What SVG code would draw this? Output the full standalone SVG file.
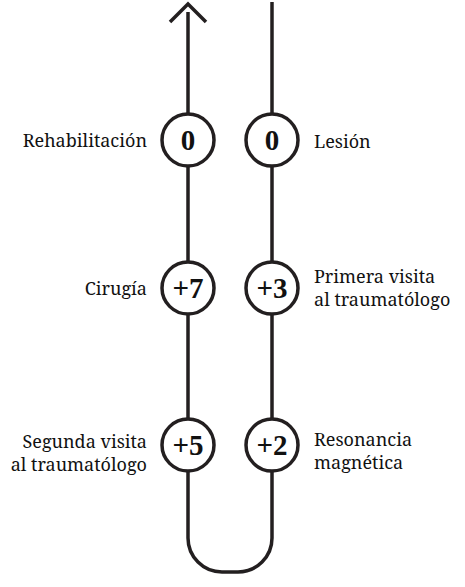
<svg xmlns="http://www.w3.org/2000/svg" width="465" height="587" viewBox="0 0 465 587">
<style>
.ln{fill:none;stroke:#231f20;stroke-width:3.5;stroke-linecap:butt}
.c{fill:#fff;stroke:#231f20;stroke-width:3.5}
</style>
<rect width="465" height="587" fill="#fff"/>
<g id="connectors">
<path class="ln" d="M188,12 V114"/>
<path class="ln" d="M170,22 L188,4 L206,22"/>
<path class="ln" d="M272,2 V114"/>
<path class="ln" d="M188,167 V261 M272,167 V261 M188,314 V419 M272,314 V419"/>
<path class="ln" d="M188,472 V538 A34,34 0 0 0 222,572 H238 A34,34 0 0 0 272,538 V472"/>
</g>
<g fill="#111">
<g font-family="Liberation Serif, serif" font-size="29" font-weight="bold" text-anchor="middle">
<g id="node-rehabilitacion"><circle class="c" cx="188" cy="140" r="26"/><text x="188" y="150">0</text></g>
<g id="node-lesion"><circle class="c" cx="272" cy="140" r="26"/><text x="272" y="150">0</text></g>
<g id="node-cirugia"><circle class="c" cx="188" cy="288" r="26"/><text x="188" y="298">+7</text></g>
<g id="node-primera"><circle class="c" cx="272" cy="288" r="26"/><text x="272" y="298">+3</text></g>
<g id="node-segunda"><circle class="c" cx="188" cy="445" r="26"/><text x="188" y="455">+5</text></g>
<g id="node-resonancia"><circle class="c" cx="272" cy="445" r="26"/><text x="272" y="455">+2</text></g>
</g>
<g font-family="Noto Serif, Liberation Serif, serif" font-size="18">
<g id="labels-left" text-anchor="end">
<text x="147" y="147">Rehabilitación</text>
<text x="147" y="295">Cirugía</text>
<text x="147" y="448">Segunda visita</text>
<text x="147" y="471">al traumatólogo</text>
</g>
<g id="labels-right">
<text x="314" y="148">Lesión</text>
<text x="314" y="283">Primera visita</text>
<text x="314" y="306">al traumatólogo</text>
<text x="314" y="446">Resonancia</text>
<text x="314" y="469">magnética</text>
</g>
</g>
</g>
</svg>
